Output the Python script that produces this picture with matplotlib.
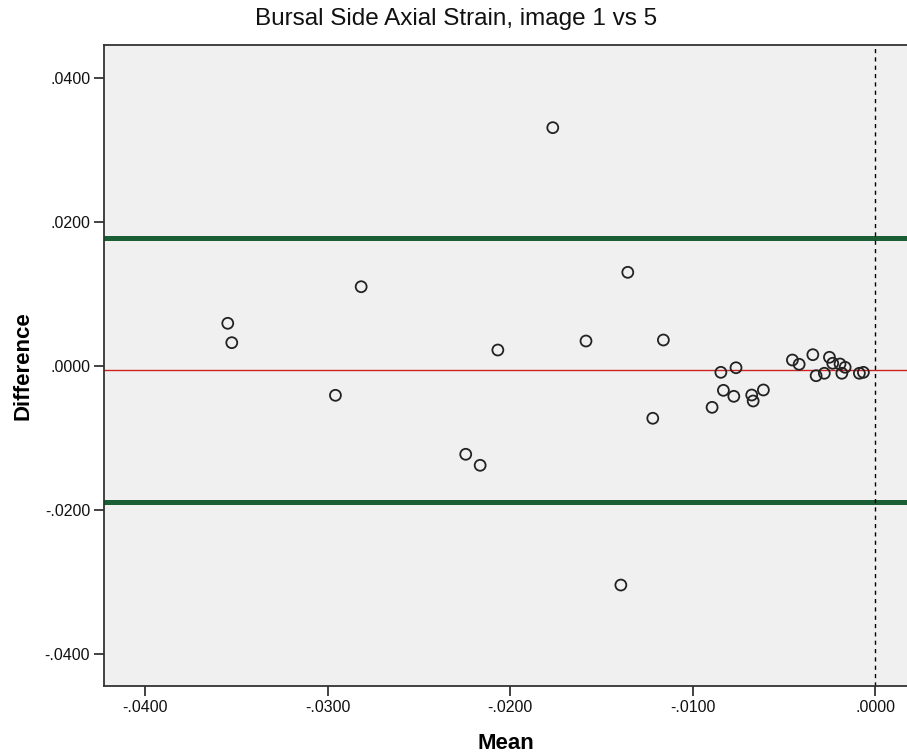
import numpy as np
import matplotlib.pyplot as plt
from matplotlib.ticker import FuncFormatter, MultipleLocator

plt.rcParams['font.family'] = ['Liberation Sans', 'DejaVu Sans']

# Bland-Altman data
mean_vals = [-0.03547, -0.03525, -0.02957, -0.02816, -0.02243, -0.02164, -0.02067,
             -0.01766, -0.01584, -0.01393, -0.01355, -0.01218, -0.01160, -0.00893,
             -0.00845, -0.00831, -0.00774, -0.00762, -0.00676, -0.00668, -0.00612,
             -0.00453, -0.00416, -0.00341, -0.00323, -0.00278, -0.00250, -0.00232,
             -0.00192, -0.00182, -0.00164, -0.00086, -0.00064]
diff_vals = [0.00593, 0.00324, -0.00407, 0.01101, -0.01226, -0.01379, 0.00222,
             0.03310, 0.00347, -0.03042, 0.01301, -0.00726, 0.00361, -0.00574,
             -0.00088, -0.00338, -0.00421, -0.00024, -0.00403, -0.00486, -0.00333,
             0.00083, 0.00024, 0.00157, -0.00135, -0.00101, 0.00121, 0.00038,
             0.00028, -0.00101, -0.00018, -0.00101, -0.00088]

mean_diff = -0.00055
upper_loa = 0.01778
lower_loa = -0.01889


def spss_fmt(v, pos):
    s = f'{v:.4f}'
    s = s.replace('0.', '.', 1)
    if s == '-.0000':
        s = '.0000'
    return s


fig = plt.figure(figsize=(9.07, 7.55), dpi=100)
ax = fig.add_axes([0.1147, 0.0914, 0.8853, 0.849])
ax.set_facecolor('#F0F0F0')

ax.axhline(upper_loa, color='#1B5E35', lw=3.6, zorder=2)
ax.axhline(lower_loa, color='#1B5E35', lw=3.6, zorder=2)
ax.axhline(mean_diff, color='#CC2222', lw=1.0, zorder=2)
ax.axvline(0, color='black', lw=1.0, ls=(0, (3, 3)), zorder=2)

ax.scatter(mean_vals, diff_vals, s=62, facecolors='none', edgecolors='#222222',
           linewidths=1.3, zorder=3)

ax.set_xlim(-0.04225, 0.00175)
ax.set_ylim(-0.04444, 0.04458)
ax.xaxis.set_major_locator(MultipleLocator(0.01))
ax.yaxis.set_major_locator(MultipleLocator(0.02))
ax.xaxis.set_major_formatter(FuncFormatter(spss_fmt))
ax.yaxis.set_major_formatter(FuncFormatter(spss_fmt))
ax.tick_params(direction='out', length=7, width=1.3, color='#333333',
               labelsize=11.5, labelcolor='#111111', pad=3)

for side in ['left', 'bottom', 'top']:
    ax.spines[side].set_color('#333333')
    ax.spines[side].set_linewidth(1.3)
ax.spines['right'].set_visible(False)

ax.set_xlabel('Mean', fontsize=16, fontweight='bold', labelpad=13)
ax.set_ylabel('Difference', fontsize=16, fontweight='bold', labelpad=8)
fig.text(0.503, 1 - 19 / 755, 'Bursal Side Axial Strain, image 1 vs 5',
         fontsize=17.5, ha='center', va='center', color='#111111')

fig.savefig('out.png', dpi=100)
